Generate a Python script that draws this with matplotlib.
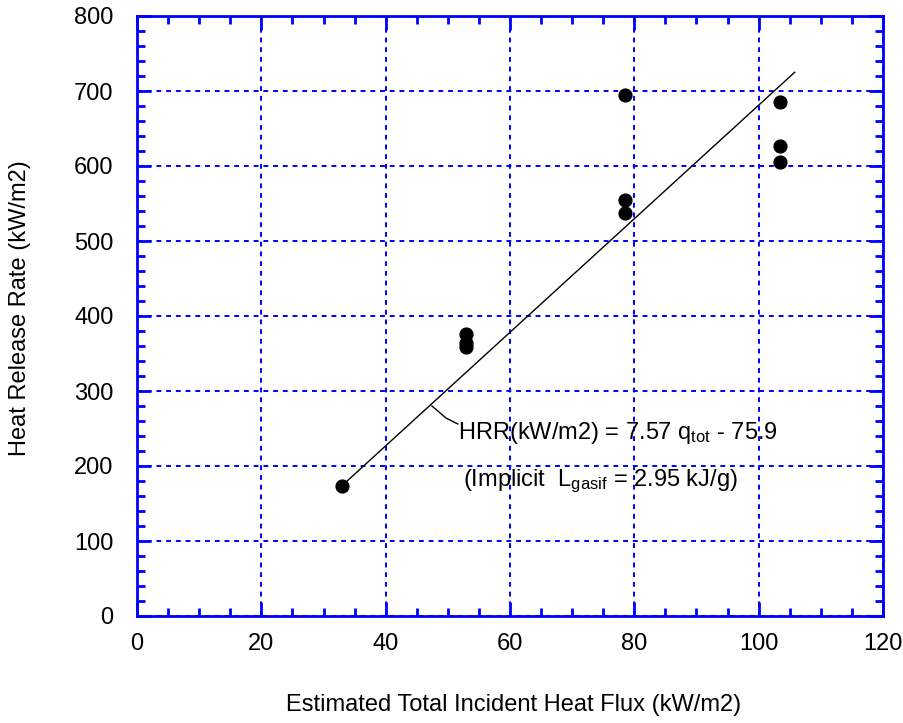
import matplotlib
matplotlib.use("Agg")
import matplotlib.pyplot as plt
import numpy as np
from matplotlib.ticker import MultipleLocator

plt.rcParams['font.family'] = ['Liberation Sans', 'DejaVu Sans']
plt.rcParams['mathtext.fontset'] = 'custom'
plt.rcParams['mathtext.rm'] = 'Liberation Sans'
plt.rcParams['mathtext.it'] = 'Liberation Sans'

flux = [33, 53, 53, 53, 78.5, 78.5, 78.5, 103.5, 103.5, 103.5]
hrr = [173, 376, 364, 359, 695, 555, 538, 686, 627, 605]
slope = 7.57
intercept = -75.9
fit_range = [33, 105.8]

W, H = 904, 723
fig = plt.figure(figsize=(W / 100, H / 100), dpi=100)
ax = fig.add_axes([137 / W, 1 - 616 / H, (883 - 137) / W, 600 / H])

blue = (0, 0, 1)
ax.set_xlim(0, 120)
ax.set_ylim(0, 800)
ax.xaxis.set_major_locator(MultipleLocator(20))
ax.xaxis.set_minor_locator(MultipleLocator(5))
ax.yaxis.set_major_locator(MultipleLocator(100))
ax.yaxis.set_minor_locator(MultipleLocator(20))
ax.grid(True, which='major', color=blue, linestyle=(0, (2.5, 2.5)), linewidth=1.4)
for s in ax.spines.values():
    s.set_color(blue)
    s.set_linewidth(2)
ax.tick_params(which='both', direction='in', color=blue, top=True, right=True,
               labelsize=17)
ax.tick_params(axis='x', which='both', pad=12)
ax.tick_params(axis='y', which='both', pad=17)
ax.tick_params(which='major', length=10, width=2)
ax.tick_params(which='minor', length=6, width=2)

xf = np.array(fit_range)
ax.plot(xf, slope * xf + intercept, color='black', lw=1, zorder=3)
ax.scatter(flux, hrr, s=85, color='black', zorder=4)

ax.plot([47.45, 49.7, 51.6], [280, 264, 256], color='black', lw=1)
ax.text(51.6, 244, r"HRR(kW/m2) = 7.57 q$_{\mathrm{tot}}$ - 75.9", fontsize=17,
        va='center', ha='left')
ax.text(52.4, 180, r"(Implicit  L$_{\mathrm{gasif}}$ = 2.95 kJ/g)", fontsize=17,
        va='center', ha='left')

fig.text(514 / W, 1 - 705 / H, "Estimated Total Incident Heat Flux (kW/m2)",
         fontsize=17, ha='center', va='center')
fig.text(20 / W, 1 - 308 / H, "Heat Release Rate (kW/m2)", fontsize=17,
         ha='center', va='center', rotation=90)

fig.savefig("out.png", dpi=100)
